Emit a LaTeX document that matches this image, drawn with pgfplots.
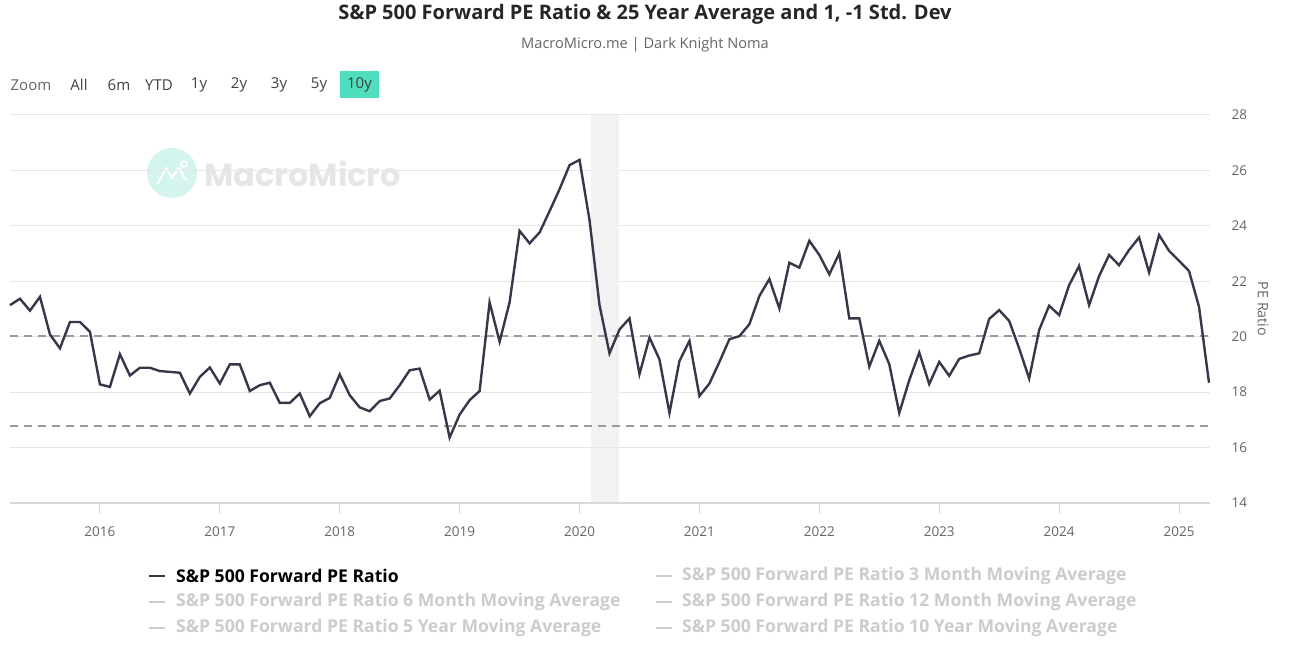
\documentclass[border=0pt]{standalone}
\usepackage{fontspec}
\setmainfont{Open Sans}
\newfontfamily\wmfont{Poppins}
\usepackage{pgfplots}
\pgfplotsset{compat=1.18}
\definecolor{linec}{HTML}{363849}
\definecolor{gridc}{HTML}{E6E6E6}
\definecolor{axisc}{HTML}{D8D8D8}
\definecolor{dashc}{HTML}{9B9B9B}
\definecolor{bandc}{HTML}{F2F2F2}
\definecolor{labc}{HTML}{666666}
\definecolor{btnc}{HTML}{4FDFBE}
\definecolor{legoff}{HTML}{CCCCCC}
\definecolor{wmtext}{HTML}{E4E6E8}
\definecolor{wmcirc}{HTML}{D3F5EE}
\begin{document}
\begin{tikzpicture}[x=1pt,y=1pt]
\useasboundingbox (0,0) rectangle (1295,652);
\fill[white] (0,0) rectangle (1295,652);
% watermark
\fill[wmcirc] (172,479) circle (25);
\draw[white, line width=2.2pt, line join=round, line cap=round] (158,469) -- (166,484) -- (172,474) -- (179,484) -- (186,472);
\draw[white, line width=1.6pt] (184,488) circle (3);
\node[anchor=west, text=wmtext, font=\wmfont\fontsize{32}{37}\selectfont\bfseries, inner sep=0] at (204,478) {MacroMicro};
\begin{axis}[
  at={(10pt,149pt)}, anchor=south west, scale only axis,
  width=1200pt, height=388pt,
  xmin=0, xmax=120.1, ymin=14, ymax=28,
  ytick={14,16,...,28}, yticklabel pos=right,
  xtick={9,21,33,45,57,69,81,93,105,117},
  xticklabels={2016,2017,2018,2019,2020,2021,2022,2023,2024,2025},
  ymajorgrids, grid style={draw=gridc, line width=1pt},
  axis line style={draw=none},
  ytick style={draw=none},
  xtick style={draw=axisc, line width=1pt},
  tick align=outside, major tick length=11pt,
  xtick pos=bottom, ytick pos=right,
  ticklabel style={font=\fontsize{13.5}{16}\selectfont, text=labc},
  xticklabel style={yshift=-9pt},
  yticklabel style={anchor=west, xshift=7pt},
  /pgf/number format/assume math mode=true,
  clip=false,
]
\addplot[draw=none, fill=bandc] coordinates {(58.1,14) (58.1,28) (61,28) (61,14)} -- cycle;
\pgfplotsextra{\draw[gridc, line width=1pt] (axis cs:0,16) -- (axis cs:120.1,16);}
\draw[axisc, line width=1.2pt] (rel axis cs:0,0) -- (rel axis cs:1,0);
\addplot[dashc, line width=2pt, dash pattern=on 8pt off 6pt] coordinates {(0,20.03) (120.1,20.03)};
\addplot[dashc, line width=2pt, dash pattern=on 8pt off 6pt] coordinates {(0,16.77) (120.1,16.77)};
\addplot[linec, line width=2.4pt, line join=miter, mark=none] coordinates {
(0,21.14) (1,21.37) (2,20.94) (3,21.44) (4,20.08) (5,19.58) (6,20.53) (7,20.53) (8,20.18) (9,18.28)
(10,18.19) (11,19.37) (12,18.60) (13,18.88) (14,18.88) (15,18.76) (16,18.73) (17,18.70) (18,17.95) (19,18.55)
(20,18.89) (21,18.31) (22,19.00) (23,19.00) (24,18.04) (25,18.25) (26,18.34) (27,17.61) (28,17.61) (29,17.95)
(30,17.13) (31,17.60) (32,17.79) (33,18.64) (34,17.89) (35,17.45) (36,17.31) (37,17.68) (38,17.77) (39,18.25)
(40,18.79) (41,18.85) (42,17.73) (43,18.05) (44,16.36) (45,17.19) (46,17.71) (47,18.04) (48,21.24) (49,19.82)
(50,21.24) (51,23.82) (52,23.37) (53,23.76) (54,24.53) (55,25.32) (56,26.19) (57,26.38) (58,24.21) (59,21.14)
(60,19.40) (61,20.26) (62,20.66) (63,18.65) (64,19.97) (65,19.18) (66,17.25) (67,19.12) (68,19.85) (69,17.86)
(70,18.31) (71,19.09) (72,19.91) (73,20.02) (74,20.45) (75,21.47) (76,22.08) (77,21.02) (78,22.67) (79,22.49)
(80,23.46) (81,22.95) (82,22.25) (83,23.01) (84,20.66) (85,20.66) (86,18.92) (87,19.85) (88,19.01) (89,17.25)
(90,18.43) (91,19.43) (92,18.29) (93,19.09) (94,18.59) (95,19.20) (96,19.32) (97,19.40) (98,20.64) (99,20.96)
(100,20.57) (101,19.58) (102,18.49) (103,20.24) (104,21.12) (105,20.78) (106,21.86) (107,22.55) (108,21.14) (109,22.19)
(110,22.95) (111,22.58) (112,23.13) (113,23.58) (114,22.32) (115,23.67) (116,23.10) (117,22.74) (118,22.37) (119,21.08)
(120,18.34)
};
\end{axis}
% axis title
\node[rotate=-90, text=labc, font=\fontsize{14.3}{17}\selectfont] at (1263,343) {PE Ratio};
% title and subtitle
\node[font=\fontsize{20}{24}\selectfont\bfseries, text=black!85] at (645,638) {S\&P 500 Forward PE Ratio \& 25 Year Average and 1, -1 Std. Dev};
\node[font=\fontsize{14.6}{17}\selectfont, text=labc] at (645,607) {MacroMicro.me | Dark Knight Noma};
% range selector
\fill[btnc] (340,554) rectangle (379,581);
\begin{scope}[every node/.style={font=\fontsize{15}{18}\selectfont, text=black!75, inner sep=0}]
\node[text=labc] at (31,567) {Zoom};
\node at (79,567) {All};
\node at (119,567) {6m};
\node at (159,567) {YTD};
\node at (199,567) {1y};
\node at (239,567) {2y};
\node at (279,567) {3y};
\node at (319,567) {5y};
\node at (359.5,567) {10y};
\end{scope}
% legend
\begin{scope}[every node/.style={font=\fontsize{17.6}{21}\selectfont\bfseries, anchor=west, inner sep=0}]
\draw[linec, line width=2pt] (149,76) -- (165,76);
\node[text=black] at (176,76) {S\&P 500 Forward PE Ratio};
\draw[legoff, line width=2pt] (149,50) -- (165,50);
\node[text=legoff] at (176,50) {S\&P 500 Forward PE Ratio 6 Month Moving Average};
\draw[legoff, line width=2pt] (149,24) -- (165,24);
\node[text=legoff] at (176,24) {S\&P 500 Forward PE Ratio 5 Year Moving Average};
\draw[legoff, line width=2pt] (656,76) -- (672,76);
\node[text=legoff] at (682,76) {S\&P 500 Forward PE Ratio 3 Month Moving Average};
\draw[legoff, line width=2pt] (656,50) -- (672,50);
\node[text=legoff] at (682,50) {S\&P 500 Forward PE Ratio 12 Month Moving Average};
\draw[legoff, line width=2pt] (656,24) -- (672,24);
\node[text=legoff] at (682,24) {S\&P 500 Forward PE Ratio 10 Year Moving Average};
\end{scope}
\end{tikzpicture}
\end{document}
